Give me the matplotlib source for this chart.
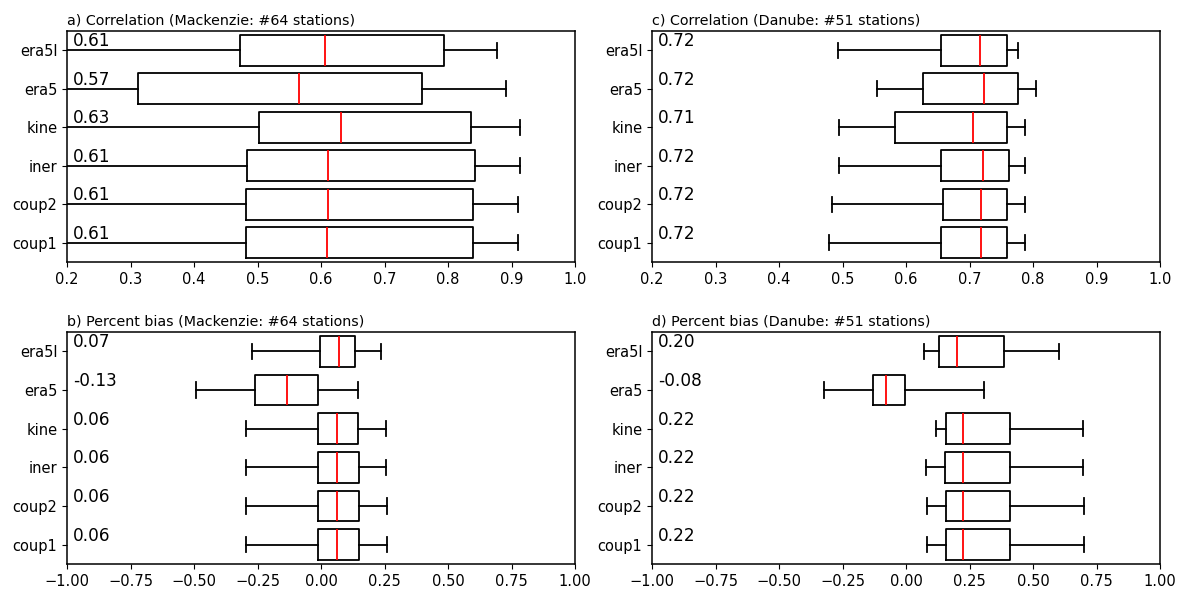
import matplotlib
matplotlib.use("Agg")
import matplotlib.pyplot as plt
import matplotlib.transforms as mtransforms

models = ["coup1", "coup2", "iner", "kine", "era5", "era5l"]

# Correlation, Mackenzie (whislo, q1, med, q3, whishi) for coup1..era5l
corr_mack_whislo = [0.05, 0.05, 0.05, 0.05, 0.05, 0.05]
corr_mack_q1 = [0.482, 0.482, 0.483, 0.502, 0.312, 0.473]
corr_mack_med = [0.610, 0.611, 0.611, 0.632, 0.566, 0.606]
corr_mack_q3 = [0.839, 0.839, 0.842, 0.836, 0.759, 0.793]
corr_mack_whishi = [0.910, 0.910, 0.914, 0.914, 0.892, 0.877]

# Correlation, Danube
corr_dan_whislo = [0.478, 0.483, 0.495, 0.495, 0.554, 0.493]
corr_dan_q1 = [0.655, 0.659, 0.655, 0.582, 0.627, 0.655]
corr_dan_med = [0.718, 0.718, 0.721, 0.706, 0.723, 0.716]
corr_dan_q3 = [0.759, 0.759, 0.762, 0.759, 0.776, 0.759]
corr_dan_whishi = [0.787, 0.787, 0.787, 0.787, 0.805, 0.777]

# Percent bias, Mackenzie
pb_mack_whislo = [-0.295, -0.295, -0.295, -0.295, -0.491, -0.273]
pb_mack_q1 = [-0.010, -0.010, -0.012, -0.012, -0.261, -0.003]
pb_mack_med = [0.063, 0.063, 0.062, 0.062, -0.134, 0.071]
pb_mack_q3 = [0.151, 0.151, 0.149, 0.146, -0.011, 0.134]
pb_mack_whishi = [0.259, 0.259, 0.255, 0.255, 0.145, 0.236]

# Percent bias, Danube
pb_dan_whislo = [0.083, 0.083, 0.080, 0.119, -0.323, 0.071]
pb_dan_q1 = [0.156, 0.156, 0.153, 0.159, -0.129, 0.129]
pb_dan_med = [0.224, 0.224, 0.224, 0.224, -0.077, 0.202]
pb_dan_q3 = [0.410, 0.410, 0.408, 0.408, -0.005, 0.385]
pb_dan_whishi = [0.700, 0.700, 0.698, 0.698, 0.307, 0.602]

titles = ["a) Correlation (Mackenzie: #64 stations)",
          "b) Percent bias (Mackenzie: #64 stations)",
          "c) Correlation (Danube: #51 stations)",
          "d) Percent bias (Danube: #51 stations)"]

panels = [
    (corr_mack_whislo, corr_mack_q1, corr_mack_med, corr_mack_q3, corr_mack_whishi, (0.2, 1.0)),
    (pb_mack_whislo, pb_mack_q1, pb_mack_med, pb_mack_q3, pb_mack_whishi, (-1.0, 1.0)),
    (corr_dan_whislo, corr_dan_q1, corr_dan_med, corr_dan_q3, corr_dan_whishi, (0.2, 1.0)),
    (pb_dan_whislo, pb_dan_q1, pb_dan_med, pb_dan_q3, pb_dan_whishi, (-1.0, 1.0)),
]

W, H = 1185, 597
fig = plt.figure(figsize=(W / 100, H / 100), dpi=100)

# axes rectangles in pixels: (left, top, right, bottom)
rects = [(67, 31, 575, 262), (67, 332, 575, 564),
         (652, 31, 1160, 262), (652, 332, 1160, 564)]

lw = 1.3
for (l, t, r, b), title, (wl, q1, med, q3, wh, xl) in zip(rects, titles, panels):
    ax = fig.add_axes([l / W, 1 - b / H, (r - l) / W, (b - t) / H])
    stats = []
    for i, m in enumerate(models):
        stats.append(dict(label=m, whislo=wl[i], q1=q1[i], med=med[i],
                          q3=q3[i], whishi=wh[i], fliers=[]))
    pos = list(range(1, len(models) + 1))
    ax.bxp(stats, positions=pos, vert=False, widths=0.8, showfliers=False,
           boxprops=dict(color="black", linewidth=lw),
           whiskerprops=dict(color="black", linewidth=lw),
           capprops=dict(color="black", linewidth=lw),
           medianprops=dict(color="red", linewidth=lw))
    ax.set_xlim(*xl)
    ax.set_ylim(0.5, 6.5)
    ax.set_yticks(pos)
    ax.set_yticklabels(models, fontsize=10.5)
    ax.tick_params(axis="x", labelsize=10.5)
    for s in ax.spines.values():
        s.set_linewidth(1.1)
    ax.set_title(title, loc="left", fontsize=10.3, pad=5)
    trans = mtransforms.blended_transform_factory(ax.transAxes, ax.transData)
    for p, mv in zip(pos, med):
        ax.text(0.012, p + 0.1, "%.2f" % mv, transform=trans, fontsize=12.2,
                va="baseline", ha="left")

fig.savefig("out.png", dpi=100)
